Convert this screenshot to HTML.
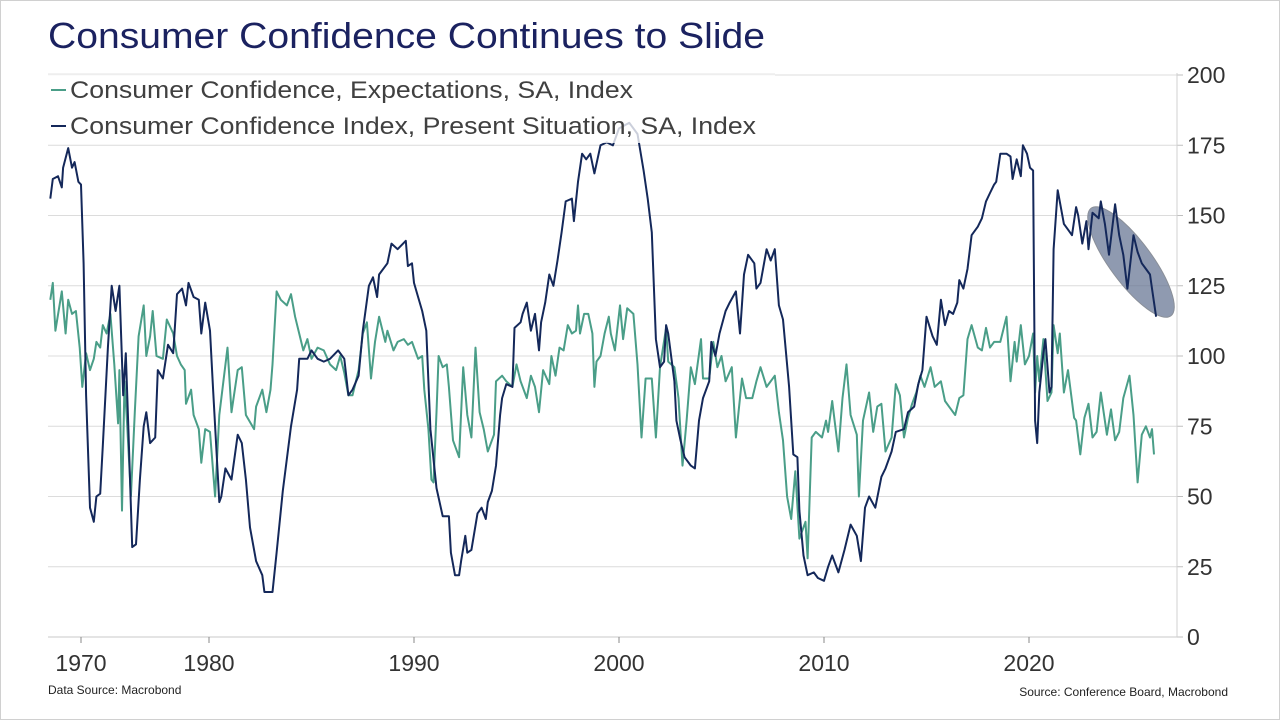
<!DOCTYPE html>
<html><head><meta charset="utf-8"><style>
html,body{margin:0;padding:0;background:#fff;}
body{width:1280px;height:720px;overflow:hidden;position:relative;font-family:"Liberation Sans",sans-serif;}
#frame{position:absolute;left:0;top:0;width:1278px;height:718px;border:1px solid #d0d0d0;}
</style></head><body>
<div id="frame"></div>
<svg id="chart" width="1280" height="720" style="position:absolute;left:0;top:0">
<text x="48" y="48" font-size="36" fill="#1b2260" textLength="717" lengthAdjust="spacingAndGlyphs">Consumer Confidence Continues to Slide</text>
<g id="grid"></g>
<g id="xaxis"></g>
<g id="yaxis"></g>
<ellipse cx="1131" cy="262" rx="67" ry="21" transform="rotate(53.5 1131 262)" fill="#5f6f8f" fill-opacity="0.7" stroke="#8a8f98" stroke-width="1"/>
<g id="series"></g>
<rect x="48" y="74" width="727" height="69" fill="#fff" fill-opacity="0.78"/>
<line x1="48" y1="74" x2="775" y2="74" stroke="#e4e4e4"/>
<g>
<line x1="51" y1="90" x2="66" y2="90" stroke="#4a9e88" stroke-width="2"/>
<text x="70" y="98" font-size="24" fill="#404040" textLength="563" lengthAdjust="spacingAndGlyphs">Consumer Confidence, Expectations, SA, Index</text>
</g>
<g>
<line x1="51" y1="126" x2="66" y2="126" stroke="#14285a" stroke-width="2"/>
<text x="70" y="134" font-size="24" fill="#404040" textLength="686" lengthAdjust="spacingAndGlyphs">Consumer Confidence Index, Present Situation, SA, Index</text>
</g>
<text x="48" y="694" font-size="12" fill="#222">Data Source: Macrobond</text>
<text x="1228" y="696" font-size="12" fill="#222" text-anchor="end">Source: Conference Board, Macrobond</text>
</svg>
<script>
const yTicks=[0,25,50,75,100,125,150,175,200];
const xTickYears=[1970,1980,1990,2000,2010,2020];
const presDates=[1967.6,1967.8,1968.2,1968.5,1968.6,1969.0,1969.3,1969.5,1969.8,1970.0,1970.2,1970.4,1970.7,1971.0,1971.2,1971.5,1971.7,1972.1,1972.4,1972.7,1972.9,1973.0,1973.3,1973.5,1973.7,1974.0,1974.3,1974.6,1974.9,1975.1,1975.4,1975.8,1976.0,1976.4,1976.8,1977.2,1977.5,1977.9,1978.2,1978.4,1978.8,1979.2,1979.4,1979.7,1980.05,1980.2,1980.5,1980.6,1980.8,1981.1,1981.4,1981.6,1981.8,1982.0,1982.3,1982.6,1982.7,1983.1,1983.3,1983.6,1984.0,1984.3,1984.4,1984.8,1985.0,1985.3,1985.6,1985.9,1986.3,1986.6,1986.8,1987.0,1987.3,1987.5,1987.8,1988.0,1988.2,1988.3,1988.7,1988.9,1989.2,1989.6,1989.7,1989.9,1990.0,1990.2,1990.4,1990.6,1990.8,1991.1,1991.4,1991.7,1991.8,1992.0,1992.2,1992.3,1992.5,1992.6,1992.8,1993.1,1993.3,1993.5,1993.6,1993.8,1994.0,1994.2,1994.3,1994.5,1994.8,1994.9,1995.2,1995.3,1995.5,1995.7,1995.9,1996.1,1996.2,1996.4,1996.6,1996.8,1997.0,1997.2,1997.4,1997.7,1997.8,1998.0,1998.2,1998.4,1998.6,1998.8,1999.1,1999.4,1999.7,2000.0,2000.5,2000.9,2001.2,2001.4,2001.6,2001.8,2002.0,2002.2,2002.3,2002.4,2002.7,2002.8,2003.0,2003.2,2003.5,2003.7,2003.9,2004.1,2004.4,2004.5,2004.7,2004.9,2005.2,2005.4,2005.7,2005.9,2006.1,2006.3,2006.6,2006.7,2006.9,2007.2,2007.4,2007.6,2007.8,2008.0,2008.3,2008.5,2008.7,2008.8,2009.0,2009.2,2009.5,2009.7,2010.0,2010.2,2010.4,2010.7,2011.0,2011.3,2011.6,2011.8,2012.0,2012.2,2012.5,2012.8,2013.0,2013.3,2013.5,2013.9,2014.1,2014.4,2014.6,2014.8,2015.0,2015.3,2015.5,2015.7,2015.9,2016.1,2016.3,2016.5,2016.6,2016.8,2017.0,2017.2,2017.5,2017.7,2017.9,2018.1,2018.3,2018.4,2018.6,2018.9,2019.1,2019.2,2019.4,2019.6,2019.7,2019.9,2020.05,2020.2,2020.3,2020.4,2020.5,2020.7,2020.8,2021.0,2021.1,2021.2,2021.4,2021.7,2021.9,2022.1,2022.3,2022.4,2022.6,2022.8,2022.9,2023.1,2023.4,2023.5,2023.7,2023.9,2024.2,2024.4,2024.6,2024.8,2025.1,2025.3,2025.5,2025.7,2025.9,2026.0,2026.2];
const presValues=[156,163,164,160,167,174,167,169,162,161,133,86,46,41,50,51,68,103,125,116,122,125,86,101,74,32,33,56,75,80,69,71,95,92,104,101,122,124,118,126,121,120,108,119,109,88,48,50,60,56,72,69,56,39,27,22,16,16,30,52,75,88,99,99,102,99,98,99,102,99,86,88,93,109,125,128,121,129,133,140,138,141,132,133,126,121,116,109,74,53,43,43,30,22,22,27,36,30,31,44,46,42,48,52,61,79,85,90,89,110,112,115,119,109,115,102,112,119,129,125,134,144,155,156,148,162,172,170,172,165,175,176,175,181,183,179,166,156,144,106,96,98,111,108,91,77,70,64,61,60,77,85,91,105,100,108,116,119,123,108,129,136,133,124,126,138,134,138,118,113,89,65,64,45,29,22,23,21,20,25,29,23,31,40,36,27,46,50,46,57,60,66,73,74,80,82,90,95,114,107,104,120,111,116,115,119,127,124,131,143,146,149,155,158,161,162,172,172,171,163,170,164,175,172,167,166,77,69,87,101,106,87,89,138,159,147,145,143,153,150,140,148,138,151,149,155,147,136,154,143,136,124,143,137,133,131,129,124,114];
const expDates=[1967.6,1967.8,1968.0,1968.5,1968.8,1969.0,1969.3,1969.6,1969.9,1970.1,1970.4,1970.7,1971.0,1971.2,1971.5,1971.7,1972.0,1972.3,1972.6,1972.9,1973.0,1973.2,1973.4,1973.6,1973.9,1974.2,1974.5,1974.9,1975.1,1975.4,1975.6,1975.9,1976.4,1976.7,1977.2,1977.5,1977.8,1978.1,1978.2,1978.6,1978.8,1979.2,1979.4,1979.7,1980.05,1980.3,1980.5,1980.9,1981.1,1981.4,1981.6,1981.8,1982.2,1982.3,1982.6,1982.8,1983.0,1983.1,1983.3,1983.5,1983.8,1984.0,1984.2,1984.4,1984.6,1984.8,1985.0,1985.3,1985.6,1985.9,1986.2,1986.4,1986.6,1986.8,1987.0,1987.3,1987.5,1987.7,1987.9,1988.1,1988.3,1988.6,1988.7,1989.0,1989.2,1989.5,1989.7,1989.9,1990.2,1990.4,1990.5,1990.7,1990.85,1990.95,1991.1,1991.2,1991.4,1991.6,1991.7,1991.9,1992.2,1992.4,1992.6,1992.8,1993.0,1993.2,1993.4,1993.6,1993.9,1994.0,1994.3,1994.5,1994.8,1995.0,1995.2,1995.5,1995.7,1995.9,1996.1,1996.3,1996.6,1996.7,1996.9,1997.1,1997.3,1997.5,1997.7,1997.9,1998.0,1998.1,1998.3,1998.5,1998.7,1998.8,1998.9,1999.1,1999.3,1999.5,1999.6,1999.8,2000.05,2000.2,2000.4,2000.7,2000.9,2001.1,2001.3,2001.6,2001.8,2002.0,2002.3,2002.4,2002.7,2002.9,2003.1,2003.3,2003.5,2003.7,2004.0,2004.1,2004.4,2004.6,2004.8,2005.0,2005.2,2005.5,2005.7,2006.0,2006.2,2006.5,2006.7,2006.9,2007.2,2007.6,2007.8,2008.0,2008.2,2008.4,2008.6,2008.8,2009.1,2009.2,2009.4,2009.6,2009.9,2010.1,2010.2,2010.4,2010.7,2010.9,2011.1,2011.3,2011.6,2011.7,2011.9,2012.2,2012.4,2012.6,2012.8,2013.0,2013.3,2013.5,2013.7,2013.9,2014.1,2014.3,2014.5,2014.7,2014.9,2015.2,2015.4,2015.7,2015.9,2016.1,2016.4,2016.6,2016.8,2017.0,2017.2,2017.5,2017.7,2017.9,2018.1,2018.3,2018.6,2018.9,2019.1,2019.3,2019.4,2019.6,2019.8,2020.0,2020.2,2020.3,2020.4,2020.5,2020.7,2020.9,2021.1,2021.2,2021.4,2021.5,2021.7,2021.9,2022.2,2022.3,2022.5,2022.7,2022.9,2023.1,2023.3,2023.5,2023.8,2024.0,2024.2,2024.4,2024.6,2024.9,2025.1,2025.3,2025.5,2025.7,2025.9,2026.0,2026.1];
const expValues=[120,126,109,123,108,120,115,116,103,89,101,95,99,105,103,111,108,115,97,76,95,45,91,76,50,80,107,118,100,107,116,100,99,113,108,100,97,95,83,88,79,74,62,74,73,50,79,103,80,95,96,79,74,82,88,80,88,97,123,120,118,122,114,108,102,106,99,103,102,97,95,100,94,86,86,95,108,112,92,105,114,105,109,102,105,106,104,105,99,100,88,74,56,55,80,100,96,97,89,70,64,96,79,71,103,80,74,66,72,91,93,91,89,97,91,85,93,89,80,95,90,100,93,103,102,111,108,109,118,108,115,115,108,89,98,100,108,114,108,102,118,106,117,115,97,71,92,92,71,96,110,98,96,85,61,77,96,90,106,92,92,105,96,100,91,96,71,92,85,85,91,96,89,93,80,70,50,42,59,35,41,28,71,73,71,77,73,84,66,85,97,79,72,50,77,87,73,82,83,66,71,90,86,71,78,83,87,93,89,96,89,91,84,82,79,85,86,106,111,103,102,110,103,105,105,114,91,105,98,111,97,100,108,87,100,91,106,84,87,111,101,108,87,95,78,77,65,78,83,71,73,87,72,81,70,73,85,93,79,55,72,75,71,74,65];

const NS='http://www.w3.org/2000/svg';
const X0=48,X1=1177,Y0=637,Y200=75;
function yScale(v){return Y0-(v/200)*(Y0-Y200);}
// x axis is piecewise: 1970-1980 compressed in the source chart
function xScale(yr){
  if(yr<1980) return 81+(yr-1970)*12.8;
  return 209+(yr-1980)*20.5;
}
const grid=document.getElementById('grid'),yax=document.getElementById('yaxis'),xax=document.getElementById('xaxis'),ser=document.getElementById('series');
yTicks.forEach(t=>{
  const y=yScale(t);
  if(t>0){
    const l=document.createElementNS(NS,'line');
    l.setAttribute('x1',X0);l.setAttribute('x2',X1);l.setAttribute('y1',y);l.setAttribute('y2',y);
    l.setAttribute('stroke','#dcdcdc');l.setAttribute('stroke-width','1');
    
    
    grid.appendChild(l);
  }
  const tk=document.createElementNS(NS,'line');
  tk.setAttribute('x1',X1);tk.setAttribute('x2',X1+6);tk.setAttribute('y1',y);tk.setAttribute('y2',y);
  tk.setAttribute('stroke','#bfbfbf');
  
  
  yax.appendChild(tk);
  const tx=document.createElementNS(NS,'text');
  tx.setAttribute('x',1187);tx.setAttribute('y',y+8);tx.setAttribute('font-size','23');tx.setAttribute('fill','#333');
  tx.textContent=t;
  
  
  yax.appendChild(tx);
});
const ya=document.createElementNS(NS,'line');
ya.setAttribute('x1',X1);ya.setAttribute('x2',X1);ya.setAttribute('y1',Y200-2);ya.setAttribute('y2',Y0);ya.setAttribute('stroke','#d0d0d0');


yax.appendChild(ya);
const xa=document.createElementNS(NS,'line');
xa.setAttribute('x1',X0);xa.setAttribute('x2',X1);xa.setAttribute('y1',Y0);xa.setAttribute('y2',Y0);xa.setAttribute('stroke','#c8c8c8');


xax.appendChild(xa);
xTickYears.forEach(yr=>{
  const x=xScale(yr);
  const tk=document.createElementNS(NS,'line');
  tk.setAttribute('x1',x);tk.setAttribute('x2',x);tk.setAttribute('y1',Y0);tk.setAttribute('y2',Y0+6);tk.setAttribute('stroke','#888');
  
  
  xax.appendChild(tk);
  const tx=document.createElementNS(NS,'text');
  tx.setAttribute('x',x);tx.setAttribute('y',671);tx.setAttribute('font-size','23');tx.setAttribute('fill','#333');tx.setAttribute('text-anchor','middle');
  tx.textContent=yr;
  
  
  xax.appendChild(tx);
});
function drawLine(dates,vals,color,name){
  let d='';
  for(let i=0;i<dates.length;i++){d+=(i?'L':'M')+xScale(dates[i]).toFixed(1)+','+yScale(vals[i]).toFixed(1);}
  const p=document.createElementNS(NS,'path');
  p.setAttribute('d',d);p.setAttribute('fill','none');p.setAttribute('stroke',color);p.setAttribute('stroke-width','2');p.setAttribute('stroke-linejoin','round');
  
  
  ser.appendChild(p);
}
drawLine(expDates,expValues,'#4a9e88','expectations-line');
drawLine(presDates,presValues,'#14285a','present-situation-line');
</script>
</body></html>
